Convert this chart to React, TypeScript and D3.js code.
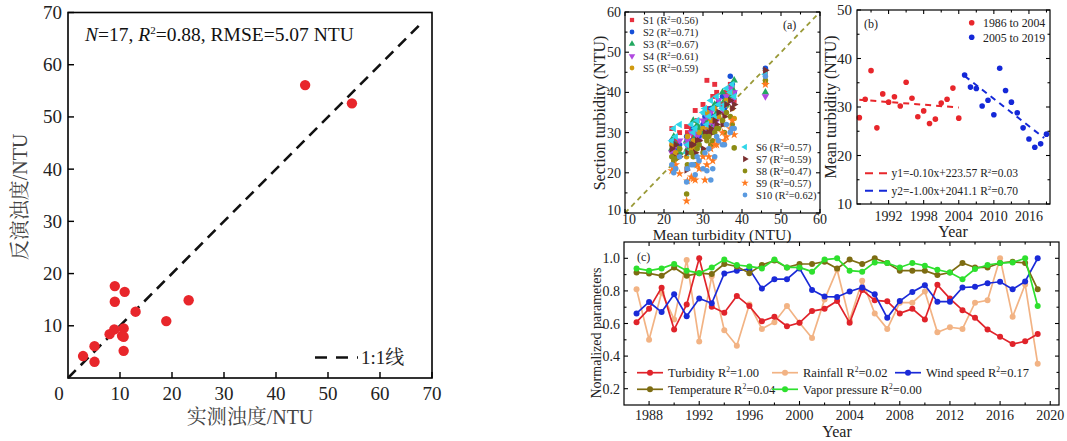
import React from 'react';
import * as d3 from 'd3';

const SERIF = '"Liberation Serif", "Times New Roman", "Noto Serif CJK SC", "Noto Sans CJK SC", serif';

// ---- left panel: measured vs retrieved turbidity
const measured = [45.6, 54.6, 9.0, 10.9, 9.0, 23.2, 13.0, 18.9, 10.7, 8.9, 8.0, 10.4, 10.7, 10.7, 5.1, 2.9, 5.1];
const retrieved = [56.1, 52.6, 17.6, 16.5, 14.6, 14.9, 12.7, 10.9, 9.5, 9.3, 8.4, 8.1, 7.9, 5.2, 6.1, 4.2, 3.1];
const leftTicks = [10, 20, 30, 40, 50, 60, 70];

// ---- panel (a): section turbidity vs mean turbidity
const meanX = [22, 23, 24, 25.8, 27.5, 28, 29, 30, 30.5, 31, 32, 33, 34, 35, 36, 37, 37.5, 38, 46,
  22.5, 26, 28.5, 31.5, 33.5, 35.5, 27, 32.5];
const sectionNames = ['S1', 'S2', 'S3', 'S4', 'S5', 'S6', 'S7', 'S8', 'S9', 'S10'];
const sectionR2 = ['0.56', '0.71', '0.67', '0.61', '0.59', '0.57', '0.59', '0.47', '0.57', '0.62'];
const s1 = [31, 28, 30, 31.5, 29, 35.5, 30, 37, 33, 43, 35, 42, 38, 37, 40, 42, 41, 38, 45, 27, 30, 33, 36, 40, 35, 31, 39];
const s2 = [28, 26, 27, 29, 31, 27, 29, 32, 34, 30, 36, 33, 35, 39, 38, 44, 42, 40, 46, 25, 27, 30, 33, 37, 36, 28, 34];
const s3 = [26, 27, 25, 28, 33, 29, 31, 30, 35, 33, 32, 37, 34, 40, 37, 39, 41, 43, 40, 29, 26, 32, 30, 35, 38, 27, 36];
const s4 = [25, 24, 28, 27, 26, 30, 28, 33, 31, 34, 35, 32, 38, 36, 39, 41, 38, 40, 39, 26, 28, 29, 32, 33, 35, 30, 31];
const s5 = [27, 25, 26, 24, 28, 26, 30, 31, 29, 35, 33, 36, 34, 33, 38, 40, 36, 33.5, 42.3, 24, 29, 27, 31, 34, 32, 26, 33];
const s6 = [28, 29, 32, 25, 30, 31, 27, 35, 36, 32, 38, 34, 37, 36, 41, 40, 42, 39, 44.5, 31, 27, 33, 34, 39, 37, 32, 36];
const s7 = [26, 27, 24, 20.7, 27, 25, 28, 26, 30, 29, 31, 33, 35, 32, 37, 38, 36, 37, 45.5, 24, 25, 28, 30, 32, 34, 27, 30];
const s8 = [24, 23.5, 26, 14.7, 24, 22, 27, 25, 29, 28, 27, 30, 31, 33, 35, 34, 32, 26.2, 43, 23, 22, 26, 29, 31, 30, 25, 28];
const s9 = [20.5, 22, 19.8, 13, 18.5, 18.2, 21, 24, 18.2, 22, 26, 27, 28, 30, 29, 31, 33, 29.5, 42, 21, 18, 22, 24, 27, 28, 19, 23];
const s10 = [22, 21, 24, 17.7, 22, 19.5, 23, 21, 25, 20.5, 18.2, 24, 28, 27, 32, 30, 31, 31, 44, 20, 21, 24, 26, 29, 27, 22, 21];
const sections = [s1, s2, s3, s4, s5, s6, s7, s8, s9, s10];

// ---- panel (b): yearly mean turbidity
const years1 = [1987, 1988, 1989, 1990, 1991, 1992, 1993, 1994, 1995, 1996, 1997, 1998, 1999, 2000, 2001, 2002, 2003, 2004];
const turb1 = [27.8, 31.6, 37.5, 25.7, 32.7, 31.0, 32.1, 30.2, 35.1, 31.8, 28.0, 29.2, 26.6, 27.5, 30.8, 31.6, 33.9, 27.7];
const years2 = [2005, 2006, 2007, 2008, 2009, 2010, 2011, 2012, 2013, 2014, 2015, 2016, 2017, 2018, 2019];
const turb2 = [36.6, 34.1, 33.8, 30.2, 31.4, 28.4, 38.0, 33.4, 31.0, 28.8, 25.7, 23.4, 21.7, 22.4, 24.4];
const trend1 = [[1987, 31.5], [2004, 29.9]];
const trend2 = [[2005, 36.4], [2018.6, 23.6]];

// ---- panel (c): normalized parameters
const yearsC = [1987, 1988, 1989, 1990, 1991, 1992, 1993, 1994, 1995, 1996, 1997, 1998, 1999, 2000, 2001, 2002, 2003,
  2004, 2005, 2006, 2007, 2008, 2009, 2010, 2011, 2012, 2013, 2014, 2015, 2016, 2017, 2018, 2019];
const turbidityN = [0.608, 0.69, 0.82, 0.563, 0.717, 1.0, 0.703, 0.666, 0.769, 0.707, 0.614, 0.641, 0.583, 0.604, 0.676, 0.69, 0.738,
  0.604, 0.806, 0.742, 0.736, 0.662, 0.69, 0.625, 0.837, 0.753, 0.682, 0.635, 0.563, 0.518, 0.474, 0.491, 0.536];
const rainfallN = [0.81, 0.50, 0.79, 0.625, 0.99, 0.49, 0.89, 0.559, 0.464, 0.717, 0.567, 0.608, 0.707, 0.604, 0.511, 0.748, 0.93,
  0.62, 0.862, 0.662, 0.567, 0.728, 0.728, 0.796, 0.546, 0.577, 0.567, 0.728, 0.742, 1.0, 0.641, 0.84, 0.353];
const windN = [0.662, 0.732, 0.67, 0.779, 0.645, 0.753, 0.724, 0.907, 0.924, 0.934, 0.814, 0.872, 0.872, 0.938, 0.806, 0.765, 0.763,
  0.796, 0.821, 0.779, 0.635, 0.738, 0.794, 0.835, 0.734, 0.734, 0.821, 0.825, 0.847, 0.856, 0.81, 0.858, 1.0];
const tempN = [0.913, 0.907, 0.893, 0.944, 0.893, 0.909, 0.903, 0.965, 0.95, 0.909, 0.959, 0.986, 0.944, 0.965, 0.965, 0.979, 0.938,
  0.992, 0.965, 1.0, 0.971, 0.924, 0.924, 0.924, 0.897, 0.913, 0.971, 0.944, 0.944, 0.971, 0.979, 0.971, 0.81];
const vaporN = [0.938, 0.924, 0.938, 0.965, 0.924, 0.909, 0.944, 0.992, 0.959, 0.95, 0.938, 0.992, 0.944, 0.944, 0.918, 0.992, 1.0,
  0.924, 0.918, 0.975, 0.971, 0.944, 0.971, 0.955, 0.93, 0.913, 0.872, 0.934, 0.959, 0.971, 0.975, 1.0, 0.707];

const symbolTypes = [d3.symbolSquare, d3.symbolCircle, d3.symbolTriangle, d3.symbolTriangle, d3.symbolCircle,
  d3.symbolTriangle, d3.symbolTriangle, d3.symbolCircle, d3.symbolStar, d3.symbolCircle];
const symbolRot = [0, 0, 0, 180, 0, -90, 90, 0, 0, 0];
const sectionColors = ['#e8303e', '#1650d8', '#22a860', '#b048e0', '#d09a10', '#30d6e8', '#7a3030', '#8c8c14', '#ff7a20', '#5a9ae0'];

// frame with inward ticks
function Frame({ xs, ys, xMajor, yMajor, xMinor = [], yMinor = [], tick = 5, minor = 3, mirror = true, sw = 1.2 }: any) {
  const [x0, x1] = xs.range();
  const [yb, yt] = ys.range();
  const segs: number[][] = [];
  const addX = (vals: number[], len: number) => vals.forEach(v => {
    const p = xs(v);
    segs.push([p, yb, p, yb - len]);
    if (mirror) segs.push([p, yt, p, yt + len]);
  });
  const addY = (vals: number[], len: number) => vals.forEach(v => {
    const p = ys(v);
    segs.push([x0, p, x0 + len, p]);
    if (mirror) segs.push([x1, p, x1 - len, p]);
  });
  addX(xMajor, tick); addX(xMinor, minor); addY(yMajor, tick); addY(yMinor, minor);
  return (
    <g>
      <rect x={x0} y={yt} width={x1 - x0} height={yb - yt} fill="none" stroke="#000" strokeWidth={sw} />
      {segs.map((s, i) => <line key={i} x1={s[0]} y1={s[1]} x2={s[2]} y2={s[3]} stroke="#000" strokeWidth={sw * 0.9} />)}
    </g>
  );
}

function R2Text({ x, y, pre, val, fs, anchor = 'start', fill = '#111' }: any) {
  return (
    <text x={x} y={y} fontSize={fs} textAnchor={anchor} fill={fill}>
      {pre}R<tspan dy={-fs * 0.38} fontSize={fs * 0.6}>2</tspan><tspan dy={fs * 0.38}>={val}</tspan>
    </text>
  );
}

function LeftPanel() {
  const x = d3.scaleLinear().domain([0, 70]).range([68, 432]);
  const y = d3.scaleLinear().domain([0, 70]).range([378, 12.5]);
  return (
    <g>
      <Frame xs={x} ys={y} xMajor={leftTicks} yMajor={leftTicks} mirror={false} tick={6} sw={1.6} />
      {leftTicks.map(v => <text key={'x' + v} x={x(v)} y={400} fontSize={19} textAnchor="middle" fill="#222">{v}</text>)}
      <text x={x(0) - 9} y={400} fontSize={19} textAnchor="middle" fill="#222">0</text>
      {leftTicks.map(v => <text key={'y' + v} x={62} y={y(v) + 6.5} fontSize={19} textAnchor="end" fill="#222">{v}</text>)}
      <line x1={x(0)} y1={y(0)} x2={x(68)} y2={y(68)} stroke="#111" strokeWidth={2.6} strokeDasharray="11,7" />
      {measured.map((m, i) => <circle key={i} cx={x(m)} cy={y(retrieved[i])} r={5.2} fill="#e8262b" />)}
      <text x={85} y={41} fontSize={19.5} fill="#111">
        <tspan fontStyle="italic">N</tspan>=17, <tspan fontStyle="italic">R</tspan>
        <tspan dy={-7} fontSize={11}>2</tspan><tspan dy={7}>=0.88, RMSE=5.07 NTU</tspan>
      </text>
      <line x1={315} y1={357.5} x2={358} y2={357.5} stroke="#111" strokeWidth={2.6} strokeDasharray="12,9" />
      <text x={361} y={364} fontSize={19} fill="#222">1:1线</text>
      <text transform="translate(27,197) rotate(-90)" fontSize={20} textAnchor="middle" fill="#444">反演浊度/NTU</text>
      <text x={250} y={424} fontSize={20} textAnchor="middle" fill="#444">实测浊度/NTU</text>
    </g>
  );
}

function Marker({ i, cx, cy, size = 20 }: any) {
  const path = d3.symbol().type(symbolTypes[i]).size(size)() as string;
  return <path d={path} transform={`translate(${cx},${cy}) rotate(${symbolRot[i]})`} fill={sectionColors[i]} />;
}

function PanelA() {
  const x = d3.scaleLinear().domain([10, 60]).range([625, 820]);
  const y = d3.scaleLinear().domain([10, 60]).range([213, 12]);
  const major = [10, 20, 30, 40, 50, 60];
  const minorT = [15, 25, 35, 45, 55];
  return (
    <g>
      <line x1={x(10)} y1={y(10)} x2={x(60)} y2={y(60)} stroke="#9a9a38" strokeWidth={1.8} strokeDasharray="5,4" />
      {sections.map((s, si) => (
        <g key={si}>
          {s.map((v, j) => <Marker key={j} i={si} cx={x(meanX[j])} cy={y(v)} size={24} />)}
        </g>
      ))}
      <Frame xs={x} ys={y} xMajor={major} yMajor={major} xMinor={minorT} yMinor={minorT} tick={4} minor={2.5} />
      {major.map((v, i) => <text key={'x' + v} x={x(v) + (i === 0 ? 4 : 0)} y={224} fontSize={14} textAnchor="middle" fill="#222">{v}</text>)}
      {major.map(v => <text key={'y' + v} x={621} y={y(v) + (v === 10 ? 2 : 5)} fontSize={14} textAnchor="end" fill="#222">{v}</text>)}
      <text transform="translate(605,113) rotate(-90)" fontSize={16} textAnchor="middle" fill="#222">Section turbidity (NTU)</text>
      <text x={722} y={240} fontSize={15.5} textAnchor="middle" fill="#222">Mean turbidity (NTU)</text>
      <text x={783} y={29} fontSize={12} fill="#222">(a)</text>
      {sectionNames.map((n, i) => {
        const lx = i < 5 ? 632 : 745;
        const ly = i < 5 ? 20 + i * 12 : 147 + (i - 5) * 12;
        return (
          <g key={n}>
            <Marker i={i} cx={lx} cy={ly} size={18} />
            <R2Text x={lx + 11} y={ly + 3.5} pre={n + ' ('} val={sectionR2[i] + ')'} fs={10.5} fill="#222" />
          </g>
        );
      })}
    </g>
  );
}

function PanelB() {
  const x = d3.scaleLinear().domain([1986.6, 2019.6]).range([857, 1050]);
  const y = d3.scaleLinear().domain([10, 50]).range([204, 10]);
  const xMajor = [1992, 1998, 2004, 2010, 2016];
  const xMinor = [1989, 1995, 2001, 2007, 2013, 2019];
  const yMajor = [10, 20, 30, 40, 50];
  const yMinor = [15, 25, 35, 45];
  const line = d3.line<number[]>().x(d => x(d[0])).y(d => y(d[1]));
  return (
    <g>
      <path d={line(trend1 as any) as string} stroke="#e8262b" strokeWidth={2} strokeDasharray="6,5" fill="none" />
      <path d={line(trend2 as any) as string} stroke="#1428d8" strokeWidth={2} strokeDasharray="6,5" fill="none" />
      {years1.map((yr, i) => <circle key={'r' + yr} cx={x(yr)} cy={y(turb1[i])} r={2.8} fill="#e8262b" />)}
      {years2.map((yr, i) => <circle key={'b' + yr} cx={x(yr)} cy={y(turb2[i])} r={2.8} fill="#1428d8" />)}
      <Frame xs={x} ys={y} xMajor={xMajor} yMajor={yMajor} xMinor={xMinor} yMinor={yMinor} tick={4} minor={2.5} />
      {xMajor.map(v => <text key={'x' + v} x={x(v)} y={221} fontSize={14} textAnchor="middle" fill="#222">{v}</text>)}
      {yMajor.map(v => <text key={'y' + v} x={852} y={y(v) + 5} fontSize={15} textAnchor="end" fill="#222">{v}</text>)}
      <text transform="translate(836,107) rotate(-90)" fontSize={16} textAnchor="middle" fill="#222">Mean turbidity (NTU)</text>
      <text x={953} y={237} fontSize={16} textAnchor="middle" fill="#222">Year</text>
      <text x={864} y={28} fontSize={12} fill="#222">(b)</text>
      <circle cx={971.7} cy={22.7} r={2.8} fill="#e8262b" />
      <text x={983} y={27} fontSize={11.8} fill="#222">1986 to 2004</text>
      <circle cx={971.7} cy={37.3} r={2.8} fill="#1428d8" />
      <text x={983} y={41.5} fontSize={11.8} fill="#222">2005 to 2019</text>
      <line x1={865} y1={173.3} x2={888} y2={173.3} stroke="#e8262b" strokeWidth={2} strokeDasharray="8,6" />
      <R2Text x={891.5} y={177.3} pre="y1=-0.10x+223.57 " val="0.03" fs={11.5} fill="#222" />
      <line x1={865} y1={190.7} x2={888} y2={190.7} stroke="#1428d8" strokeWidth={2} strokeDasharray="8,6" />
      <R2Text x={891.5} y={194.7} pre="y2=-1.00x+2041.1 " val="0.70" fs={11.5} fill="#222" />
    </g>
  );
}

const seriesC = [
  { name: 'Turbidity', r2: '1.00', vals: turbidityN, color: '#e0232a' },
  { name: 'Rainfall', r2: '0.02', vals: rainfallN, color: '#f2b384' },
  { name: 'Wind speed', r2: '0.17', vals: windN, color: '#1a2ad8' },
  { name: 'Temperature', r2: '0.04', vals: tempN, color: '#7d6c12' },
  { name: 'Vapor pressure', r2: '0.00', vals: vaporN, color: '#2ee02e' },
];
const drawOrder = [1, 0, 2, 3, 4];

function PanelC() {
  const x = d3.scaleLinear().domain([1986, 2020.7]).range([624, 1059]);
  const y = d3.scaleLinear().domain([0.1, 1.1]).range([405, 242]);
  const xMajor = [1988, 1992, 1996, 2000, 2004, 2008, 2012, 2016, 2020];
  const xMinor = [1990, 1994, 1998, 2002, 2006, 2010, 2014, 2018];
  const yMajor = [0.2, 0.4, 0.6, 0.8, 1.0];
  const yMinor = [0.3, 0.5, 0.7, 0.9];
  const line = d3.line<number>().x((_, i) => x(yearsC[i])).y(d => y(d));
  const legendPos = [[637, 372.7], [772, 372.7], [895, 372.7], [637, 389.3], [772, 389.3]];
  return (
    <g>
      {drawOrder.map(k => {
        const s = seriesC[k];
        return (
          <g key={s.name}>
            <path d={line(s.vals) as string} stroke={s.color} strokeWidth={1.7} fill="none" />
            {s.vals.map((v, i) => <circle key={i} cx={x(yearsC[i])} cy={y(v)} r={3} fill={s.color} />)}
          </g>
        );
      })}
      <Frame xs={x} ys={y} xMajor={xMajor} yMajor={yMajor} xMinor={xMinor} yMinor={yMinor} tick={4} minor={2.5} />
      {xMajor.map(v => <text key={'x' + v} x={x(v)} y={420} fontSize={14} textAnchor="middle" fill="#222">{v}</text>)}
      {yMajor.map(v => <text key={'y' + v} x={620} y={y(v) + 5} fontSize={14} textAnchor="end" fill="#222">{v.toFixed(1)}</text>)}
      <text transform="translate(601,333) rotate(-90)" fontSize={14} textAnchor="middle" fill="#222">Normalized parameters</text>
      <text x={837} y={437} fontSize={16} textAnchor="middle" fill="#222">Year</text>
      <text x={637} y={261} fontSize={12} fill="#222">(c)</text>
      {seriesC.map((s, i) => {
        const [lx, ly] = legendPos[i];
        return (
          <g key={'lg' + s.name}>
            <line x1={lx} y1={ly} x2={lx + 26} y2={ly} stroke={s.color} strokeWidth={1.7} />
            <circle cx={lx + 13} cy={ly} r={3} fill={s.color} />
            <R2Text x={lx + 31} y={ly + 4.3} pre={s.name + '  '} val={s.r2} fs={12.5} fill="#222" />
          </g>
        );
      })}
    </g>
  );
}

export default function App() {
  return (
    <svg width={1067} height={441} style={{ position: 'absolute', left: 0, top: 0, background: '#fff' }} fontFamily={SERIF}>
      <LeftPanel />
      <PanelA />
      <PanelB />
      <PanelC />
    </svg>
  );
}
